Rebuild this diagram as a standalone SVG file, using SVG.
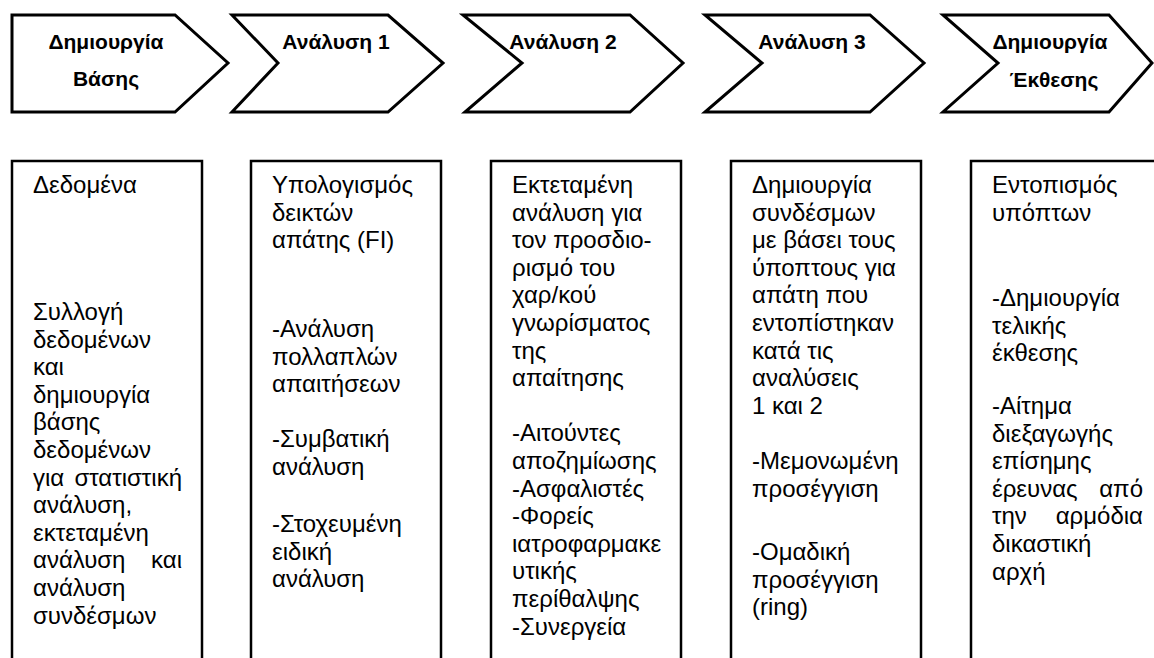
<svg xmlns="http://www.w3.org/2000/svg" width="1154" height="658" viewBox="0 0 1154 658">
<style>
.chev{fill:#fff;stroke:#000;stroke-width:3;stroke-linejoin:miter}
.box{fill:#fff;stroke:#000;stroke-width:2.5}
.h{font-family:"Liberation Sans",Arial,sans-serif;font-weight:bold;font-size:21px;fill:#000;text-anchor:middle}
.t{font-family:"Liberation Sans",Arial,sans-serif;font-size:24px;fill:#000}
.r{text-anchor:end}
</style>
<rect x="0" y="0" width="1154" height="658" fill="#fff"/>
<g id="connectors"></g>
<g id="step1">
<polygon class="chev" points="12,15 175,15 228,63 175,112 12,112"/>
<text class="h"><tspan x="106" y="49">Δημιουργία</tspan><tspan x="106" y="86">Βάσης</tspan></text>
</g>
<g id="step2">
<polygon class="chev" points="232,15 388,15 443,63 388,112 232,112 278,63"/>
<text class="h" x="336" y="49">Ανάλυση 1</text>
</g>
<g id="step3">
<polygon class="chev" points="463,15 630,15 683,63 630,112 465,112 522,63"/>
<text class="h" x="563" y="49">Ανάλυση 2</text>
</g>
<g id="step4">
<polygon class="chev" points="705,15 870,15 924,63 870,112 705,112 762,63"/>
<text class="h" x="812" y="49">Ανάλυση 3</text>
</g>
<g id="step5">
<polygon class="chev" points="943,15 1109,15 1152,63 1109,112 943,112 998,63"/>
<text class="h"><tspan x="1050" y="49">Δημιουργία</tspan><tspan x="1054" y="87">Έκθεσης</tspan></text>
</g>
<g id="col1">
<rect class="box" x="12" y="161" width="190" height="520"/>
<text class="t">
<tspan x="33" y="193">Δεδομένα</tspan>
<tspan x="33" y="320">Συλλογή</tspan>
<tspan x="33" y="347.6">δεδομένων</tspan>
<tspan x="33" y="375.2">και</tspan>
<tspan x="33" y="402.8">δημιουργία</tspan>
<tspan x="33" y="430.4">βάσης</tspan>
<tspan x="33" y="458">δεδομένων</tspan>
<tspan x="33" y="485.6">για</tspan>
<tspan x="33" y="513.2">ανάλυση,</tspan>
<tspan x="33" y="540.8">εκτεταμένη</tspan>
<tspan x="33" y="568.4">ανάλυση</tspan>
<tspan x="33" y="596">ανάλυση</tspan>
<tspan x="33" y="623.6">συνδέσμων</tspan>
</text>
<text class="t r" x="182" y="485.6">στατιστική</text>
<text class="t r" x="182" y="568.4">και</text>
</g>
<g id="col2">
<rect class="box" x="251" y="161" width="190" height="520"/>
<text class="t">
<tspan x="272" y="193">Υπολογισμός</tspan>
<tspan x="272" y="220.6">δεικτών</tspan>
<tspan x="272" y="248.2">απάτης (FI)</tspan>
<tspan x="272" y="337">-Ανάλυση</tspan>
<tspan x="272" y="364.6">πολλαπλών</tspan>
<tspan x="272" y="392.2">απαιτήσεων</tspan>
<tspan x="272" y="447">-Συμβατική</tspan>
<tspan x="272" y="474.6">ανάλυση</tspan>
<tspan x="272" y="532">-Στοχευμένη</tspan>
<tspan x="272" y="559.6">ειδική</tspan>
<tspan x="272" y="587.2">ανάλυση</tspan>
</text>
</g>
<g id="col3">
<rect class="box" x="491" y="161" width="190" height="520"/>
<text class="t">
<tspan x="512" y="193">Εκτεταμένη</tspan>
<tspan x="512" y="220.6">ανάλυση για</tspan>
<tspan x="512" y="248.2">τον προσδιο-</tspan>
<tspan x="512" y="275.8">ρισμό του</tspan>
<tspan x="512" y="303.4">χαρ/κού</tspan>
<tspan x="512" y="331">γνωρίσματος</tspan>
<tspan x="512" y="358.6">της</tspan>
<tspan x="512" y="386.2">απαίτησης</tspan>
<tspan x="512" y="441.4">-Αιτούντες</tspan>
<tspan x="512" y="469">αποζημίωσης</tspan>
<tspan x="512" y="496.6">-Ασφαλιστές</tspan>
<tspan x="512" y="524.2">-Φορείς</tspan>
<tspan x="512" y="551.8">ιατροφαρμακε</tspan>
<tspan x="512" y="579.4">υτικής</tspan>
<tspan x="512" y="607">περίθαλψης</tspan>
<tspan x="512" y="634.6">-Συνεργεία</tspan>
</text>
</g>
<g id="col4">
<rect class="box" x="731" y="161" width="190" height="520"/>
<text class="t">
<tspan x="752" y="193">Δημιουργία</tspan>
<tspan x="752" y="220.6">συνδέσμων</tspan>
<tspan x="752" y="248.2">με βάσει τους</tspan>
<tspan x="752" y="275.8">ύποπτους για</tspan>
<tspan x="752" y="303.4">απάτη που</tspan>
<tspan x="752" y="331">εντοπίστηκαν</tspan>
<tspan x="752" y="358.6">κατά τις</tspan>
<tspan x="752" y="386.2">αναλύσεις</tspan>
<tspan x="752" y="413.8">1 και 2</tspan>
<tspan x="752" y="469">-Μεμονωμένη</tspan>
<tspan x="752" y="496.6">προσέγγιση</tspan>
<tspan x="752" y="560">-Ομαδική</tspan>
<tspan x="752" y="587.6">προσέγγιση</tspan>
<tspan x="752" y="615.2">(ring)</tspan>
</text>
</g>
<g id="col5">
<rect class="box" x="971" y="161" width="200" height="520"/>
<text class="t">
<tspan x="992" y="193">Εντοπισμός</tspan>
<tspan x="992" y="220.6">υπόπτων</tspan>
<tspan x="992" y="306">-Δημιουργία</tspan>
<tspan x="992" y="333.6">τελικής</tspan>
<tspan x="992" y="361.2">έκθεσης</tspan>
<tspan x="992" y="414">-Αίτημα</tspan>
<tspan x="992" y="441.6">διεξαγωγής</tspan>
<tspan x="992" y="469.2">επίσημης</tspan>
<tspan x="992" y="496.8">έρευνας</tspan>
<tspan x="992" y="524.4">την</tspan>
<tspan x="992" y="552">δικαστική</tspan>
<tspan x="992" y="579.6">αρχή</tspan>
</text>
<text class="t r" x="1143" y="496.8">από</text>
<text class="t r" x="1143" y="524.4">αρμόδια</text>
</g>
</svg>
